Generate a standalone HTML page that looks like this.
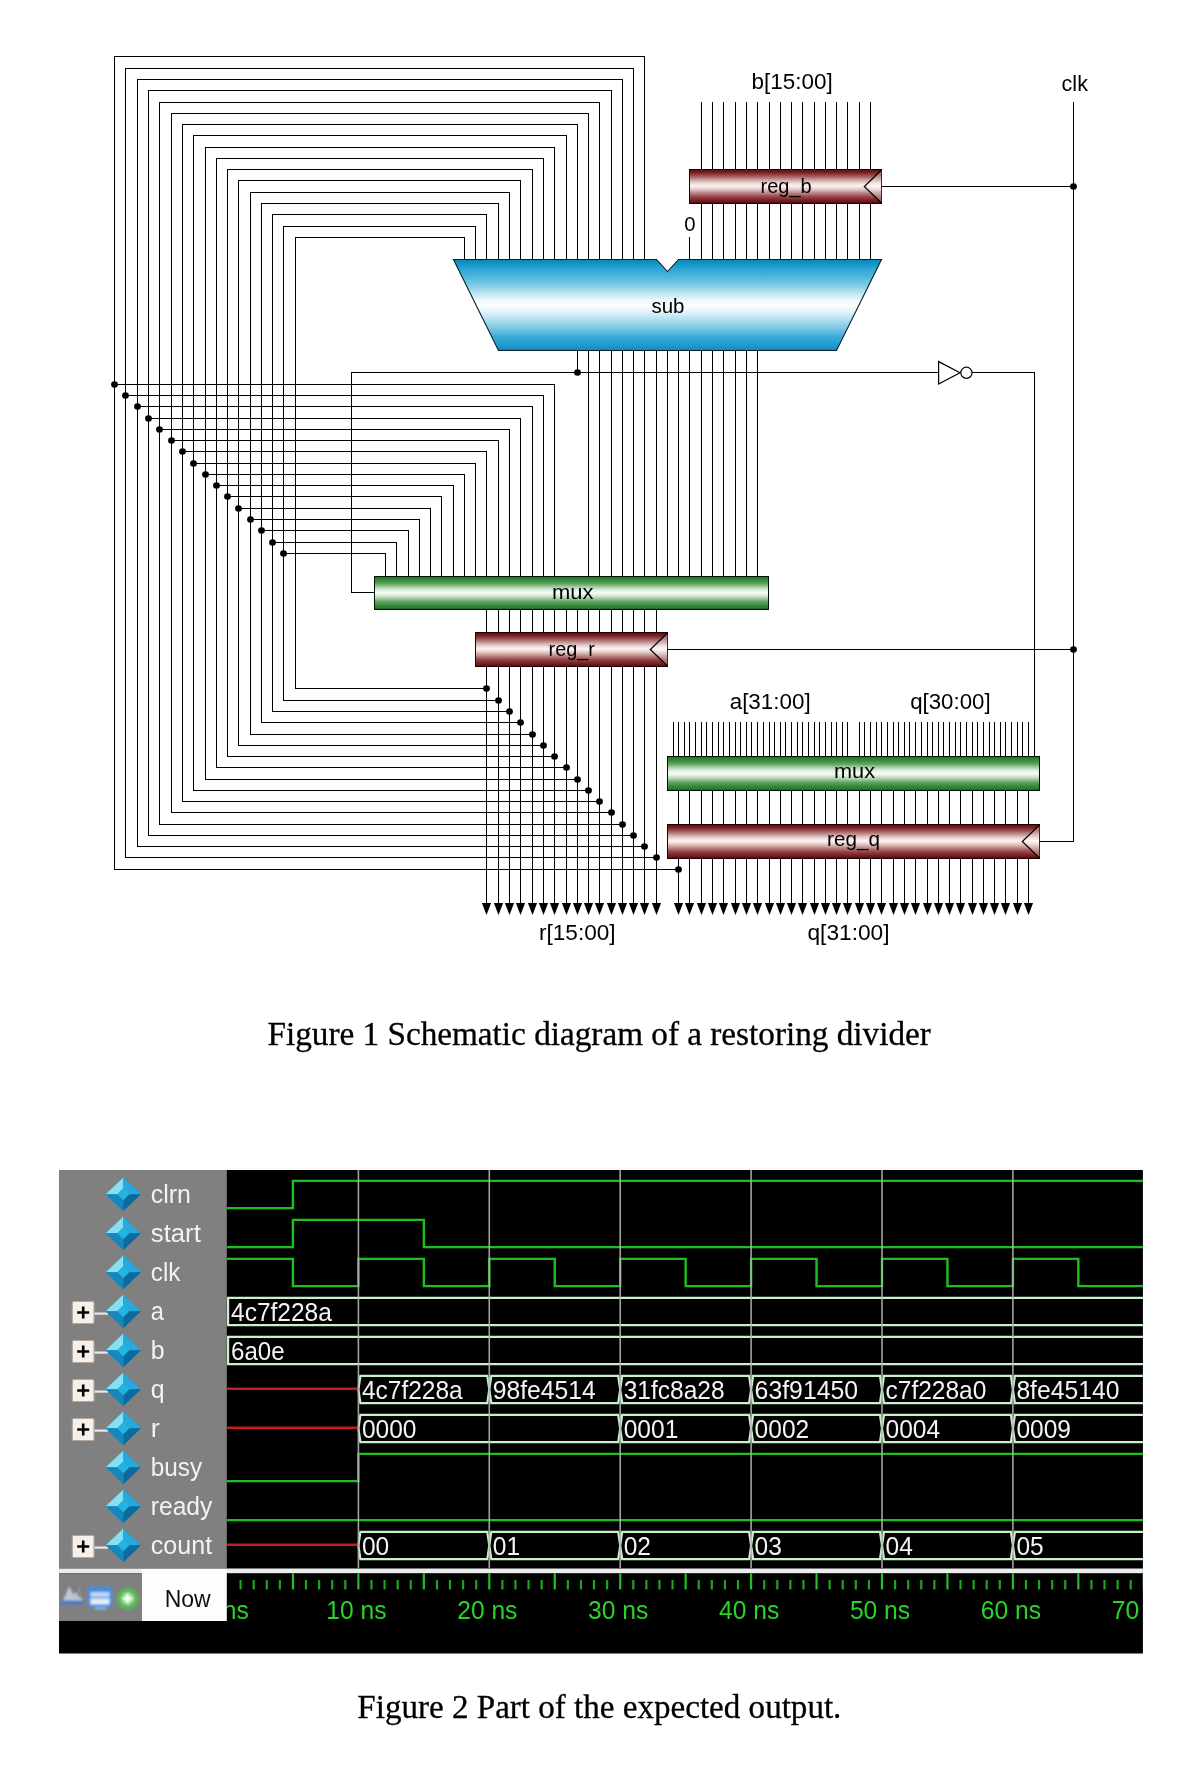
<!DOCTYPE html>
<html><head><meta charset="utf-8"><title>Restoring divider</title>
<style>
html,body{margin:0;padding:0;background:#fff;}
body{width:1203px;height:1780px;position:relative;overflow:hidden;font-family:"Liberation Sans",sans-serif;}
svg text{white-space:pre;}
</style></head><body>
<svg width="1203" height="1780" viewBox="0 0 1203 1780" style="position:absolute;left:0;top:0">
<defs>
<linearGradient id="gr" x1="0" y1="0" x2="0" y2="1">
<stop offset="0" stop-color="#4a0a0e"/><stop offset="0.04" stop-color="#6a161b"/><stop offset="0.1" stop-color="#7c2428"/><stop offset="0.2" stop-color="#a05a5c"/><stop offset="0.3" stop-color="#c89c9c"/><stop offset="0.4" stop-color="#ecd8d6"/><stop offset="0.485" stop-color="#fef3f0"/><stop offset="0.58" stop-color="#e4cbc9"/><stop offset="0.7" stop-color="#b88080"/><stop offset="0.8" stop-color="#964548"/><stop offset="0.9" stop-color="#7a2226"/><stop offset="0.96" stop-color="#65141a"/><stop offset="1" stop-color="#40060a"/>
</linearGradient>
<linearGradient id="gg" x1="0" y1="0" x2="0" y2="1">
<stop offset="0" stop-color="#1b5e20"/><stop offset="0.04" stop-color="#2a7a30"/><stop offset="0.12" stop-color="#3a8a3e"/><stop offset="0.22" stop-color="#60a362"/><stop offset="0.32" stop-color="#a8cfa8"/><stop offset="0.41" stop-color="#deeede"/><stop offset="0.49" stop-color="#f5fdf3"/><stop offset="0.57" stop-color="#deeede"/><stop offset="0.66" stop-color="#a8cfa8"/><stop offset="0.76" stop-color="#60a362"/><stop offset="0.87" stop-color="#3a8a3e"/><stop offset="0.95" stop-color="#2a7a30"/><stop offset="1" stop-color="#144d19"/>
</linearGradient>
<linearGradient id="gb" x1="0" y1="0" x2="0" y2="1">
<stop offset="0" stop-color="#0c86b8"/><stop offset="0.04" stop-color="#1193c5"/><stop offset="0.1" stop-color="#2aa5d4"/><stop offset="0.2" stop-color="#52b8de"/><stop offset="0.3" stop-color="#8dd0e6"/><stop offset="0.38" stop-color="#c4e6f1"/><stop offset="0.45" stop-color="#eef8fb"/><stop offset="0.505" stop-color="#fcffff"/><stop offset="0.58" stop-color="#e0f2f8"/><stop offset="0.65" stop-color="#b5e2f2"/><stop offset="0.75" stop-color="#80c8e4"/><stop offset="0.85" stop-color="#3aaad8"/><stop offset="0.95" stop-color="#1d9acc"/><stop offset="1" stop-color="#0c86b8"/>
</linearGradient>
</defs>
<path fill="none" stroke="#000" stroke-width="1" stroke-linecap="square" shape-rendering="crispEdges" d="M678.5 869.5 L114.5 869.5 L114.5 56.5 L644.5 56.5 L644.5 259.5 M114.5 384.5 L554.5 384.5 L554.5 576.5 M656.5 857.5 L125.5 857.5 L125.5 68.5 L633.5 68.5 L633.5 259.5 M125.5 395.5 L543.5 395.5 L543.5 576.5 M644.5 846.5 L137.5 846.5 L137.5 79.5 L622.5 79.5 L622.5 259.5 M137.5 406.5 L532.5 406.5 L532.5 576.5 M633.5 835.5 L148.5 835.5 L148.5 90.5 L611.5 90.5 L611.5 259.5 M148.5 418.5 L520.5 418.5 L520.5 576.5 M622.5 824.5 L159.5 824.5 L159.5 102.5 L599.5 102.5 L599.5 259.5 M159.5 429.5 L509.5 429.5 L509.5 576.5 M611.5 812.5 L171.5 812.5 L171.5 113.5 L588.5 113.5 L588.5 259.5 M171.5 440.5 L498.5 440.5 L498.5 576.5 M599.5 801.5 L182.5 801.5 L182.5 124.5 L577.5 124.5 L577.5 259.5 M182.5 451.5 L486.5 451.5 L486.5 576.5 M588.5 790.5 L193.5 790.5 L193.5 135.5 L566.5 135.5 L566.5 259.5 M193.5 463.5 L475.5 463.5 L475.5 576.5 M577.5 779.5 L205.5 779.5 L205.5 147.5 L554.5 147.5 L554.5 259.5 M205.5 474.5 L464.5 474.5 L464.5 576.5 M566.5 767.5 L216.5 767.5 L216.5 158.5 L543.5 158.5 L543.5 259.5 M216.5 485.5 L453.5 485.5 L453.5 576.5 M554.5 756.5 L227.5 756.5 L227.5 169.5 L532.5 169.5 L532.5 259.5 M227.5 496.5 L441.5 496.5 L441.5 576.5 M543.5 745.5 L238.5 745.5 L238.5 180.5 L520.5 180.5 L520.5 259.5 M238.5 508.5 L430.5 508.5 L430.5 576.5 M532.5 734.5 L250.5 734.5 L250.5 192.5 L509.5 192.5 L509.5 259.5 M250.5 519.5 L419.5 519.5 L419.5 576.5 M520.5 722.5 L261.5 722.5 L261.5 203.5 L498.5 203.5 L498.5 259.5 M261.5 530.5 L408.5 530.5 L408.5 576.5 M509.5 711.5 L272.5 711.5 L272.5 214.5 L486.5 214.5 L486.5 259.5 M272.5 542.5 L396.5 542.5 L396.5 576.5 M498.5 700.5 L283.5 700.5 L283.5 226.5 L475.5 226.5 L475.5 259.5 M283.5 553.5 L385.5 553.5 L385.5 576.5 M486.5 688.5 L295.5 688.5 L295.5 237.5 L464.5 237.5 L464.5 259.5 M577.5 350.5 L577.5 372.5 M588.5 350.5 L588.5 576.5 M599.5 350.5 L599.5 576.5 M611.5 350.5 L611.5 576.5 M622.5 350.5 L622.5 576.5 M633.5 350.5 L633.5 576.5 M644.5 350.5 L644.5 576.5 M656.5 350.5 L656.5 576.5 M667.5 350.5 L667.5 576.5 M678.5 350.5 L678.5 576.5 M689.5 350.5 L689.5 576.5 M701.5 350.5 L701.5 576.5 M712.5 350.5 L712.5 576.5 M723.5 350.5 L723.5 576.5 M735.5 350.5 L735.5 576.5 M746.5 350.5 L746.5 576.5 M757.5 350.5 L757.5 576.5 M374.5 592.5 L351.5 592.5 L351.5 372.5 L938.5 372.5 M972.5 372.5 L1034.5 372.5 L1034.5 756.5 M701.5 102.5 L701.5 169.5 M701.5 203.5 L701.5 259.5 M712.5 102.5 L712.5 169.5 M712.5 203.5 L712.5 259.5 M723.5 102.5 L723.5 169.5 M723.5 203.5 L723.5 259.5 M735.5 102.5 L735.5 169.5 M735.5 203.5 L735.5 259.5 M746.5 102.5 L746.5 169.5 M746.5 203.5 L746.5 259.5 M757.5 102.5 L757.5 169.5 M757.5 203.5 L757.5 259.5 M769.5 102.5 L769.5 169.5 M769.5 203.5 L769.5 259.5 M780.5 102.5 L780.5 169.5 M780.5 203.5 L780.5 259.5 M791.5 102.5 L791.5 169.5 M791.5 203.5 L791.5 259.5 M802.5 102.5 L802.5 169.5 M802.5 203.5 L802.5 259.5 M814.5 102.5 L814.5 169.5 M814.5 203.5 L814.5 259.5 M825.5 102.5 L825.5 169.5 M825.5 203.5 L825.5 259.5 M836.5 102.5 L836.5 169.5 M836.5 203.5 L836.5 259.5 M847.5 102.5 L847.5 169.5 M847.5 203.5 L847.5 259.5 M859.5 102.5 L859.5 169.5 M859.5 203.5 L859.5 259.5 M870.5 102.5 L870.5 169.5 M870.5 203.5 L870.5 259.5 M689.5 237.5 L689.5 259.5 M1073.5 102.5 L1073.5 841.5 L1039.5 841.5 M881.5 186.5 L1073.5 186.5 M667.5 649.5 L1073.5 649.5 M486.5 609.5 L486.5 632.5 M486.5 666.5 L486.5 904 M498.5 609.5 L498.5 632.5 M498.5 666.5 L498.5 904 M509.5 609.5 L509.5 632.5 M509.5 666.5 L509.5 904 M520.5 609.5 L520.5 632.5 M520.5 666.5 L520.5 904 M532.5 609.5 L532.5 632.5 M532.5 666.5 L532.5 904 M543.5 609.5 L543.5 632.5 M543.5 666.5 L543.5 904 M554.5 609.5 L554.5 632.5 M554.5 666.5 L554.5 904 M566.5 609.5 L566.5 632.5 M566.5 666.5 L566.5 904 M577.5 609.5 L577.5 632.5 M577.5 666.5 L577.5 904 M588.5 609.5 L588.5 632.5 M588.5 666.5 L588.5 904 M599.5 609.5 L599.5 632.5 M599.5 666.5 L599.5 904 M611.5 609.5 L611.5 632.5 M611.5 666.5 L611.5 904 M622.5 609.5 L622.5 632.5 M622.5 666.5 L622.5 904 M633.5 609.5 L633.5 632.5 M633.5 666.5 L633.5 904 M644.5 609.5 L644.5 632.5 M644.5 666.5 L644.5 904 M656.5 609.5 L656.5 632.5 M656.5 666.5 L656.5 904 M673.5 722.5 L673.5 756.5 M678.5 722.5 L678.5 756.5 M684.5 722.5 L684.5 756.5 M689.5 722.5 L689.5 756.5 M695.5 722.5 L695.5 756.5 M701.5 722.5 L701.5 756.5 M706.5 722.5 L706.5 756.5 M712.5 722.5 L712.5 756.5 M718.5 722.5 L718.5 756.5 M723.5 722.5 L723.5 756.5 M729.5 722.5 L729.5 756.5 M735.5 722.5 L735.5 756.5 M740.5 722.5 L740.5 756.5 M746.5 722.5 L746.5 756.5 M751.5 722.5 L751.5 756.5 M757.5 722.5 L757.5 756.5 M763.5 722.5 L763.5 756.5 M769.5 722.5 L769.5 756.5 M774.5 722.5 L774.5 756.5 M780.5 722.5 L780.5 756.5 M785.5 722.5 L785.5 756.5 M791.5 722.5 L791.5 756.5 M797.5 722.5 L797.5 756.5 M802.5 722.5 L802.5 756.5 M808.5 722.5 L808.5 756.5 M814.5 722.5 L814.5 756.5 M819.5 722.5 L819.5 756.5 M825.5 722.5 L825.5 756.5 M831.5 722.5 L831.5 756.5 M836.5 722.5 L836.5 756.5 M842.5 722.5 L842.5 756.5 M847.5 722.5 L847.5 756.5 M859.5 722.5 L859.5 756.5 M864.5 722.5 L864.5 756.5 M870.5 722.5 L870.5 756.5 M876.5 722.5 L876.5 756.5 M881.5 722.5 L881.5 756.5 M887.5 722.5 L887.5 756.5 M893.5 722.5 L893.5 756.5 M898.5 722.5 L898.5 756.5 M904.5 722.5 L904.5 756.5 M909.5 722.5 L909.5 756.5 M915.5 722.5 L915.5 756.5 M921.5 722.5 L921.5 756.5 M927.5 722.5 L927.5 756.5 M932.5 722.5 L932.5 756.5 M938.5 722.5 L938.5 756.5 M943.5 722.5 L943.5 756.5 M949.5 722.5 L949.5 756.5 M955.5 722.5 L955.5 756.5 M960.5 722.5 L960.5 756.5 M966.5 722.5 L966.5 756.5 M972.5 722.5 L972.5 756.5 M977.5 722.5 L977.5 756.5 M983.5 722.5 L983.5 756.5 M989.5 722.5 L989.5 756.5 M994.5 722.5 L994.5 756.5 M1000.5 722.5 L1000.5 756.5 M1005.5 722.5 L1005.5 756.5 M1011.5 722.5 L1011.5 756.5 M1017.5 722.5 L1017.5 756.5 M1022.5 722.5 L1022.5 756.5 M1028.5 722.5 L1028.5 756.5 M678.5 790.5 L678.5 824.5 M678.5 858.5 L678.5 904 M689.5 790.5 L689.5 824.5 M689.5 858.5 L689.5 904 M701.5 790.5 L701.5 824.5 M701.5 858.5 L701.5 904 M712.5 790.5 L712.5 824.5 M712.5 858.5 L712.5 904 M723.5 790.5 L723.5 824.5 M723.5 858.5 L723.5 904 M735.5 790.5 L735.5 824.5 M735.5 858.5 L735.5 904 M746.5 790.5 L746.5 824.5 M746.5 858.5 L746.5 904 M757.5 790.5 L757.5 824.5 M757.5 858.5 L757.5 904 M769.5 790.5 L769.5 824.5 M769.5 858.5 L769.5 904 M780.5 790.5 L780.5 824.5 M780.5 858.5 L780.5 904 M791.5 790.5 L791.5 824.5 M791.5 858.5 L791.5 904 M802.5 790.5 L802.5 824.5 M802.5 858.5 L802.5 904 M814.5 790.5 L814.5 824.5 M814.5 858.5 L814.5 904 M825.5 790.5 L825.5 824.5 M825.5 858.5 L825.5 904 M836.5 790.5 L836.5 824.5 M836.5 858.5 L836.5 904 M847.5 790.5 L847.5 824.5 M847.5 858.5 L847.5 904 M859.5 790.5 L859.5 824.5 M859.5 858.5 L859.5 904 M870.5 790.5 L870.5 824.5 M870.5 858.5 L870.5 904 M881.5 790.5 L881.5 824.5 M881.5 858.5 L881.5 904 M893.5 790.5 L893.5 824.5 M893.5 858.5 L893.5 904 M904.5 790.5 L904.5 824.5 M904.5 858.5 L904.5 904 M915.5 790.5 L915.5 824.5 M915.5 858.5 L915.5 904 M927.5 790.5 L927.5 824.5 M927.5 858.5 L927.5 904 M938.5 790.5 L938.5 824.5 M938.5 858.5 L938.5 904 M949.5 790.5 L949.5 824.5 M949.5 858.5 L949.5 904 M960.5 790.5 L960.5 824.5 M960.5 858.5 L960.5 904 M972.5 790.5 L972.5 824.5 M972.5 858.5 L972.5 904 M983.5 790.5 L983.5 824.5 M983.5 858.5 L983.5 904 M994.5 790.5 L994.5 824.5 M994.5 858.5 L994.5 904 M1005.5 790.5 L1005.5 824.5 M1005.5 858.5 L1005.5 904 M1017.5 790.5 L1017.5 824.5 M1017.5 858.5 L1017.5 904 M1028.5 790.5 L1028.5 824.5 M1028.5 858.5 L1028.5 904"/>
<g fill="#000"><ellipse cx="678.5" cy="869.5" rx="3.4" ry="3.3"/><ellipse cx="114.5" cy="384.5" rx="3.4" ry="3.3"/><ellipse cx="656.5" cy="857.5" rx="3.4" ry="3.3"/><ellipse cx="125.5" cy="395.5" rx="3.4" ry="3.3"/><ellipse cx="644.5" cy="846.5" rx="3.4" ry="3.3"/><ellipse cx="137.5" cy="406.5" rx="3.4" ry="3.3"/><ellipse cx="633.5" cy="835.5" rx="3.4" ry="3.3"/><ellipse cx="148.5" cy="418.5" rx="3.4" ry="3.3"/><ellipse cx="622.5" cy="824.5" rx="3.4" ry="3.3"/><ellipse cx="159.5" cy="429.5" rx="3.4" ry="3.3"/><ellipse cx="611.5" cy="812.5" rx="3.4" ry="3.3"/><ellipse cx="171.5" cy="440.5" rx="3.4" ry="3.3"/><ellipse cx="599.5" cy="801.5" rx="3.4" ry="3.3"/><ellipse cx="182.5" cy="451.5" rx="3.4" ry="3.3"/><ellipse cx="588.5" cy="790.5" rx="3.4" ry="3.3"/><ellipse cx="193.5" cy="463.5" rx="3.4" ry="3.3"/><ellipse cx="577.5" cy="779.5" rx="3.4" ry="3.3"/><ellipse cx="205.5" cy="474.5" rx="3.4" ry="3.3"/><ellipse cx="566.5" cy="767.5" rx="3.4" ry="3.3"/><ellipse cx="216.5" cy="485.5" rx="3.4" ry="3.3"/><ellipse cx="554.5" cy="756.5" rx="3.4" ry="3.3"/><ellipse cx="227.5" cy="496.5" rx="3.4" ry="3.3"/><ellipse cx="543.5" cy="745.5" rx="3.4" ry="3.3"/><ellipse cx="238.5" cy="508.5" rx="3.4" ry="3.3"/><ellipse cx="532.5" cy="734.5" rx="3.4" ry="3.3"/><ellipse cx="250.5" cy="519.5" rx="3.4" ry="3.3"/><ellipse cx="520.5" cy="722.5" rx="3.4" ry="3.3"/><ellipse cx="261.5" cy="530.5" rx="3.4" ry="3.3"/><ellipse cx="509.5" cy="711.5" rx="3.4" ry="3.3"/><ellipse cx="272.5" cy="542.5" rx="3.4" ry="3.3"/><ellipse cx="498.5" cy="700.5" rx="3.4" ry="3.3"/><ellipse cx="283.5" cy="553.5" rx="3.4" ry="3.3"/><ellipse cx="486.5" cy="688.5" rx="3.4" ry="3.3"/><ellipse cx="577.5" cy="372.5" rx="3.4" ry="3.3"/><ellipse cx="1073.5" cy="186.5" rx="3.4" ry="3.3"/><ellipse cx="1073.5" cy="649.5" rx="3.4" ry="3.3"/></g>
<path fill="#000" d="M481.9 903 L491.1 903 L486.5 915 Z M493.9 903 L503.1 903 L498.5 915 Z M504.9 903 L514.1 903 L509.5 915 Z M515.9 903 L525.1 903 L520.5 915 Z M527.9 903 L537.1 903 L532.5 915 Z M538.9 903 L548.1 903 L543.5 915 Z M549.9 903 L559.1 903 L554.5 915 Z M561.9 903 L571.1 903 L566.5 915 Z M572.9 903 L582.1 903 L577.5 915 Z M583.9 903 L593.1 903 L588.5 915 Z M594.9 903 L604.1 903 L599.5 915 Z M606.9 903 L616.1 903 L611.5 915 Z M617.9 903 L627.1 903 L622.5 915 Z M628.9 903 L638.1 903 L633.5 915 Z M639.9 903 L649.1 903 L644.5 915 Z M651.9 903 L661.1 903 L656.5 915 Z M673.9 903 L683.1 903 L678.5 915 Z M684.9 903 L694.1 903 L689.5 915 Z M696.9 903 L706.1 903 L701.5 915 Z M707.9 903 L717.1 903 L712.5 915 Z M718.9 903 L728.1 903 L723.5 915 Z M730.9 903 L740.1 903 L735.5 915 Z M741.9 903 L751.1 903 L746.5 915 Z M752.9 903 L762.1 903 L757.5 915 Z M764.9 903 L774.1 903 L769.5 915 Z M775.9 903 L785.1 903 L780.5 915 Z M786.9 903 L796.1 903 L791.5 915 Z M797.9 903 L807.1 903 L802.5 915 Z M809.9 903 L819.1 903 L814.5 915 Z M820.9 903 L830.1 903 L825.5 915 Z M831.9 903 L841.1 903 L836.5 915 Z M842.9 903 L852.1 903 L847.5 915 Z M854.9 903 L864.1 903 L859.5 915 Z M865.9 903 L875.1 903 L870.5 915 Z M876.9 903 L886.1 903 L881.5 915 Z M888.9 903 L898.1 903 L893.5 915 Z M899.9 903 L909.1 903 L904.5 915 Z M910.9 903 L920.1 903 L915.5 915 Z M922.9 903 L932.1 903 L927.5 915 Z M933.9 903 L943.1 903 L938.5 915 Z M944.9 903 L954.1 903 L949.5 915 Z M955.9 903 L965.1 903 L960.5 915 Z M967.9 903 L977.1 903 L972.5 915 Z M978.9 903 L988.1 903 L983.5 915 Z M989.9 903 L999.1 903 L994.5 915 Z M1000.9 903 L1010.1 903 L1005.5 915 Z M1012.9 903 L1022.1 903 L1017.5 915 Z M1023.9 903 L1033.1 903 L1028.5 915 Z"/>
<rect x="689.5" y="169.5" width="192" height="34" fill="url(#gr)" stroke="#1a0000" stroke-width="1"/>
<rect x="475.5" y="632.5" width="192" height="34" fill="url(#gr)" stroke="#1a0000" stroke-width="1"/>
<rect x="667.5" y="824.5" width="372" height="34" fill="url(#gr)" stroke="#1a0000" stroke-width="1"/>
<rect x="374.5" y="576.5" width="394" height="33" fill="url(#gg)" stroke="#001400" stroke-width="1"/>
<rect x="667.5" y="756.5" width="372" height="34" fill="url(#gg)" stroke="#001400" stroke-width="1"/>
<path fill="rgba(255,255,255,0.3)" stroke="#000" stroke-width="1.2" d="M881.5 170 L864.3 186.5 L881.5 203"/>
<path fill="rgba(255,255,255,0.3)" stroke="#000" stroke-width="1.2" d="M667.5 633 L650.3 649.5 L667.5 666"/>
<path fill="rgba(255,255,255,0.3)" stroke="#000" stroke-width="1.2" d="M1039.5 825 L1022.3 841.5 L1039.5 858"/>
<path fill="url(#gb)" stroke="#06202c" stroke-width="1.1" d="M453.5 259.5 L656.5 259.5 L667.5 271.5 L678.5 259.5 L881.5 259.5 L836.5 350.5 L498.5 350.5 Z"/>
<path fill="#fff" stroke="#000" stroke-width="1.2" d="M938.6 361.6 L938.6 384 L960 372.8 Z"/>
<circle cx="966.4" cy="372.8" r="5.6" fill="#fff" stroke="#000" stroke-width="1.2"/>
<filter id="bt" x="-5%" y="-30%" width="110%" height="160%"><feGaussianBlur stdDeviation="0.3"/></filter>
<g font-family="'Liberation Sans', sans-serif" fill="#000" filter="url(#bt)">
<text x="751.5" y="89.4" font-size="21.5" textLength="81.2" lengthAdjust="spacingAndGlyphs">b[15:00]</text>
<text x="1061.6" y="91" font-size="21.5" textLength="26.3" lengthAdjust="spacingAndGlyphs">clk</text>
<text x="684.3" y="230.6" font-size="20" textLength="11.3" lengthAdjust="spacingAndGlyphs">0</text>
<text x="760.5" y="192.9" font-size="20.5" textLength="51.2" lengthAdjust="spacingAndGlyphs">reg_b</text>
<text x="651.5" y="312.6" font-size="20.5" textLength="33" lengthAdjust="spacingAndGlyphs">sub</text>
<text x="552" y="599" font-size="20.5" textLength="41.5" lengthAdjust="spacingAndGlyphs">mux</text>
<text x="548.5" y="656" font-size="20.5" textLength="46.5" lengthAdjust="spacingAndGlyphs">reg_r</text>
<text x="729.7" y="708.5" font-size="21.5" textLength="81" lengthAdjust="spacingAndGlyphs">a[31:00]</text>
<text x="910.2" y="708.5" font-size="21.5" textLength="80.4" lengthAdjust="spacingAndGlyphs">q[30:00]</text>
<text x="834" y="778.2" font-size="20.5" textLength="41" lengthAdjust="spacingAndGlyphs">mux</text>
<text x="827" y="846" font-size="20.5" textLength="53" lengthAdjust="spacingAndGlyphs">reg_q</text>
<text x="539" y="939.7" font-size="21.5" textLength="76.6" lengthAdjust="spacingAndGlyphs">r[15:00]</text>
<text x="807.5" y="939.7" font-size="21.5" textLength="82" lengthAdjust="spacingAndGlyphs">q[31:00]</text>
</g>
<g font-family="'Liberation Serif', serif" fill="#000" stroke="#000" stroke-width="0.3" filter="url(#bt)">
<text x="267.5" y="1045.4" font-size="33" textLength="663.3" lengthAdjust="spacingAndGlyphs">Figure 1 Schematic diagram of a restoring divider</text>
<text x="357.3" y="1717.5" font-size="33" textLength="484.1" lengthAdjust="spacingAndGlyphs">Figure 2 Part of the expected output.</text>
</g>
<filter id="bl" x="-2%" y="-2%" width="104%" height="104%"><feGaussianBlur stdDeviation="0.55"/></filter>
<g filter="url(#bl)">
<rect x="59" y="1170" width="1083.9" height="483.5" fill="#000"/>
<rect x="59" y="1170" width="167.8" height="398.5" fill="#808080"/>
<clipPath id="cw"><rect x="226.8" y="1170" width="916.1" height="483.5"/></clipPath>
<g clip-path="url(#cw)">
<path fill="none" stroke="#1fc01f" stroke-width="2.4" stroke-linejoin="miter" d="M226.8 1208.1 L292.95 1208.1 L292.95 1180.9 L1144.9 1180.9"/>
<path fill="none" stroke="#1fc01f" stroke-width="2.4" stroke-linejoin="miter" d="M226.8 1247.1 L292.95 1247.1 L292.95 1219.9 L423.85 1219.9 L423.85 1247.1 L1144.9 1247.1"/>
<path fill="none" stroke="#1fc01f" stroke-width="2.4" stroke-linejoin="miter" d="M226.8 1258.9 L292.95 1258.9 L292.95 1286.1 L358.4 1286.1 L358.4 1258.9 L423.85 1258.9 L423.85 1286.1 L489.3 1286.1 L489.3 1258.9 L554.75 1258.9 L554.75 1286.1 L620.2 1286.1 L620.2 1258.9 L685.65 1258.9 L685.65 1286.1 L751.1 1286.1 L751.1 1258.9 L816.55 1258.9 L816.55 1286.1 L882 1286.1 L882 1258.9 L947.45 1258.9 L947.45 1286.1 L1012.9 1286.1 L1012.9 1258.9 L1078.35 1258.9 L1078.35 1286.1 L1144.9 1286.1"/>
<path fill="none" stroke="#1fc01f" stroke-width="2.4" stroke-linejoin="miter" d="M226.8 1481.1 L358.4 1481.1 L358.4 1453.9 L1144.9 1453.9"/>
<path fill="none" stroke="#1fc01f" stroke-width="2.4" stroke-linejoin="miter" d="M226.8 1520.1 L1144.9 1520.1"/>
<path fill="none" stroke="#c9f0c9" stroke-width="2.2" d="M1180.9 1297.9 L228.1 1297.9 L228.1 1325.1 L1180.9 1325.1 L1182.9 1311.5 L1180.9 1297.9"/>
<g font-family="'Liberation Sans', sans-serif" fill="#f4f4f4" font-size="25.0">
<text x="231" y="1321.1" textLength="100.85" lengthAdjust="spacingAndGlyphs">4c7f228a</text>
</g>
<path fill="none" stroke="#c9f0c9" stroke-width="2.2" d="M1180.9 1336.9 L228.1 1336.9 L228.1 1364.1 L1180.9 1364.1 L1182.9 1350.5 L1180.9 1336.9"/>
<g font-family="'Liberation Sans', sans-serif" fill="#f4f4f4" font-size="25.0">
<text x="231" y="1360.1" textLength="53.58" lengthAdjust="spacingAndGlyphs">6a0e</text>
</g>
<path fill="none" stroke="#c9f0c9" stroke-width="2.2" d="M358.4 1389.5 L360.4 1375.9 L487.3 1375.9 L489.3 1389.5 L487.3 1403.1 L360.4 1403.1 Z M489.3 1389.5 L491.3 1375.9 L618.2 1375.9 L620.2 1389.5 L618.2 1403.1 L491.3 1403.1 Z M620.2 1389.5 L622.2 1375.9 L749.1 1375.9 L751.1 1389.5 L749.1 1403.1 L622.2 1403.1 Z M751.1 1389.5 L753.1 1375.9 L880 1375.9 L882 1389.5 L880 1403.1 L753.1 1403.1 Z M882 1389.5 L884 1375.9 L1010.9 1375.9 L1012.9 1389.5 L1010.9 1403.1 L884 1403.1 Z M1012.9 1389.5 L1014.9 1375.9 L1180.9 1375.9 L1182.9 1389.5 L1180.9 1403.1 L1014.9 1403.1 Z"/>
<path fill="none" stroke="#c81e1e" stroke-width="2.6" d="M226.8 1388.8 L358.4 1388.8"/>
<g font-family="'Liberation Sans', sans-serif" fill="#f4f4f4" font-size="25.0">
<text x="361.9" y="1399.1" textLength="100.85" lengthAdjust="spacingAndGlyphs">4c7f228a</text>
<text x="492.8" y="1399.1" textLength="103" lengthAdjust="spacingAndGlyphs">98fe4514</text>
<text x="623.7" y="1399.1" textLength="100.85" lengthAdjust="spacingAndGlyphs">31fc8a28</text>
<text x="754.6" y="1399.1" textLength="103.5" lengthAdjust="spacingAndGlyphs">63f91450</text>
<text x="885.5" y="1399.1" textLength="100.85" lengthAdjust="spacingAndGlyphs">c7f228a0</text>
<text x="1016.4" y="1399.1" textLength="103" lengthAdjust="spacingAndGlyphs">8fe45140</text>
</g>
<path fill="none" stroke="#c9f0c9" stroke-width="2.2" d="M358.4 1428.5 L360.4 1414.9 L618.2 1414.9 L620.2 1428.5 L618.2 1442.1 L360.4 1442.1 Z M620.2 1428.5 L622.2 1414.9 L749.1 1414.9 L751.1 1428.5 L749.1 1442.1 L622.2 1442.1 Z M751.1 1428.5 L753.1 1414.9 L880 1414.9 L882 1428.5 L880 1442.1 L753.1 1442.1 Z M882 1428.5 L884 1414.9 L1010.9 1414.9 L1012.9 1428.5 L1010.9 1442.1 L884 1442.1 Z M1012.9 1428.5 L1014.9 1414.9 L1180.9 1414.9 L1182.9 1428.5 L1180.9 1442.1 L1014.9 1442.1 Z"/>
<path fill="none" stroke="#c81e1e" stroke-width="2.6" d="M226.8 1427.8 L358.4 1427.8"/>
<g font-family="'Liberation Sans', sans-serif" fill="#f4f4f4" font-size="25.0">
<text x="361.9" y="1438.1" textLength="54.6" lengthAdjust="spacingAndGlyphs">0000</text>
<text x="623.7" y="1438.1" textLength="54.6" lengthAdjust="spacingAndGlyphs">0001</text>
<text x="754.6" y="1438.1" textLength="54.6" lengthAdjust="spacingAndGlyphs">0002</text>
<text x="885.5" y="1438.1" textLength="54.6" lengthAdjust="spacingAndGlyphs">0004</text>
<text x="1016.4" y="1438.1" textLength="54.6" lengthAdjust="spacingAndGlyphs">0009</text>
</g>
<path fill="none" stroke="#c9f0c9" stroke-width="2.2" d="M358.4 1545.5 L360.4 1531.9 L487.3 1531.9 L489.3 1545.5 L487.3 1559.1 L360.4 1559.1 Z M489.3 1545.5 L491.3 1531.9 L618.2 1531.9 L620.2 1545.5 L618.2 1559.1 L491.3 1559.1 Z M620.2 1545.5 L622.2 1531.9 L749.1 1531.9 L751.1 1545.5 L749.1 1559.1 L622.2 1559.1 Z M751.1 1545.5 L753.1 1531.9 L880 1531.9 L882 1545.5 L880 1559.1 L753.1 1559.1 Z M882 1545.5 L884 1531.9 L1010.9 1531.9 L1012.9 1545.5 L1010.9 1559.1 L884 1559.1 Z M1012.9 1545.5 L1014.9 1531.9 L1180.9 1531.9 L1182.9 1545.5 L1180.9 1559.1 L1014.9 1559.1 Z"/>
<path fill="none" stroke="#c81e1e" stroke-width="2.6" d="M226.8 1544.8 L358.4 1544.8"/>
<g font-family="'Liberation Sans', sans-serif" fill="#f4f4f4" font-size="25.0">
<text x="361.9" y="1555.1" textLength="27.3" lengthAdjust="spacingAndGlyphs">00</text>
<text x="492.8" y="1555.1" textLength="27.3" lengthAdjust="spacingAndGlyphs">01</text>
<text x="623.7" y="1555.1" textLength="27.3" lengthAdjust="spacingAndGlyphs">02</text>
<text x="754.6" y="1555.1" textLength="27.3" lengthAdjust="spacingAndGlyphs">03</text>
<text x="885.5" y="1555.1" textLength="27.3" lengthAdjust="spacingAndGlyphs">04</text>
<text x="1016.4" y="1555.1" textLength="27.3" lengthAdjust="spacingAndGlyphs">05</text>
</g>
<rect x="357.6" y="1170" width="1.6" height="398" fill="#b4b4b4" opacity="0.9"/>
<rect x="488.5" y="1170" width="1.6" height="398" fill="#b4b4b4" opacity="0.9"/>
<rect x="619.4" y="1170" width="1.6" height="398" fill="#b4b4b4" opacity="0.9"/>
<rect x="750.3" y="1170" width="1.6" height="398" fill="#b4b4b4" opacity="0.9"/>
<rect x="881.2" y="1170" width="1.6" height="398" fill="#b4b4b4" opacity="0.9"/>
<rect x="1012.1" y="1170" width="1.6" height="398" fill="#b4b4b4" opacity="0.9"/>
<rect x="239.49" y="1580" width="2.2" height="9.5" fill="#1aa51a"/>
<rect x="252.58" y="1580" width="2.2" height="9.5" fill="#1aa51a"/>
<rect x="265.67" y="1580" width="2.2" height="9.5" fill="#1aa51a"/>
<rect x="278.76" y="1580" width="2.2" height="9.5" fill="#1aa51a"/>
<rect x="291.85" y="1573.5" width="2.2" height="16" fill="#20c020"/>
<rect x="304.94" y="1580" width="2.2" height="9.5" fill="#1aa51a"/>
<rect x="318.03" y="1580" width="2.2" height="9.5" fill="#1aa51a"/>
<rect x="331.12" y="1580" width="2.2" height="9.5" fill="#1aa51a"/>
<rect x="344.21" y="1580" width="2.2" height="9.5" fill="#1aa51a"/>
<rect x="357.3" y="1573.5" width="2.2" height="16" fill="#20c020"/>
<rect x="370.39" y="1580" width="2.2" height="9.5" fill="#1aa51a"/>
<rect x="383.48" y="1580" width="2.2" height="9.5" fill="#1aa51a"/>
<rect x="396.57" y="1580" width="2.2" height="9.5" fill="#1aa51a"/>
<rect x="409.66" y="1580" width="2.2" height="9.5" fill="#1aa51a"/>
<rect x="422.75" y="1573.5" width="2.2" height="16" fill="#20c020"/>
<rect x="435.84" y="1580" width="2.2" height="9.5" fill="#1aa51a"/>
<rect x="448.93" y="1580" width="2.2" height="9.5" fill="#1aa51a"/>
<rect x="462.02" y="1580" width="2.2" height="9.5" fill="#1aa51a"/>
<rect x="475.11" y="1580" width="2.2" height="9.5" fill="#1aa51a"/>
<rect x="488.2" y="1573.5" width="2.2" height="16" fill="#20c020"/>
<rect x="501.29" y="1580" width="2.2" height="9.5" fill="#1aa51a"/>
<rect x="514.38" y="1580" width="2.2" height="9.5" fill="#1aa51a"/>
<rect x="527.47" y="1580" width="2.2" height="9.5" fill="#1aa51a"/>
<rect x="540.56" y="1580" width="2.2" height="9.5" fill="#1aa51a"/>
<rect x="553.65" y="1573.5" width="2.2" height="16" fill="#20c020"/>
<rect x="566.74" y="1580" width="2.2" height="9.5" fill="#1aa51a"/>
<rect x="579.83" y="1580" width="2.2" height="9.5" fill="#1aa51a"/>
<rect x="592.92" y="1580" width="2.2" height="9.5" fill="#1aa51a"/>
<rect x="606.01" y="1580" width="2.2" height="9.5" fill="#1aa51a"/>
<rect x="619.1" y="1573.5" width="2.2" height="16" fill="#20c020"/>
<rect x="632.19" y="1580" width="2.2" height="9.5" fill="#1aa51a"/>
<rect x="645.28" y="1580" width="2.2" height="9.5" fill="#1aa51a"/>
<rect x="658.37" y="1580" width="2.2" height="9.5" fill="#1aa51a"/>
<rect x="671.46" y="1580" width="2.2" height="9.5" fill="#1aa51a"/>
<rect x="684.55" y="1573.5" width="2.2" height="16" fill="#20c020"/>
<rect x="697.64" y="1580" width="2.2" height="9.5" fill="#1aa51a"/>
<rect x="710.73" y="1580" width="2.2" height="9.5" fill="#1aa51a"/>
<rect x="723.82" y="1580" width="2.2" height="9.5" fill="#1aa51a"/>
<rect x="736.91" y="1580" width="2.2" height="9.5" fill="#1aa51a"/>
<rect x="750" y="1573.5" width="2.2" height="16" fill="#20c020"/>
<rect x="763.09" y="1580" width="2.2" height="9.5" fill="#1aa51a"/>
<rect x="776.18" y="1580" width="2.2" height="9.5" fill="#1aa51a"/>
<rect x="789.27" y="1580" width="2.2" height="9.5" fill="#1aa51a"/>
<rect x="802.36" y="1580" width="2.2" height="9.5" fill="#1aa51a"/>
<rect x="815.45" y="1573.5" width="2.2" height="16" fill="#20c020"/>
<rect x="828.54" y="1580" width="2.2" height="9.5" fill="#1aa51a"/>
<rect x="841.63" y="1580" width="2.2" height="9.5" fill="#1aa51a"/>
<rect x="854.72" y="1580" width="2.2" height="9.5" fill="#1aa51a"/>
<rect x="867.81" y="1580" width="2.2" height="9.5" fill="#1aa51a"/>
<rect x="880.9" y="1573.5" width="2.2" height="16" fill="#20c020"/>
<rect x="893.99" y="1580" width="2.2" height="9.5" fill="#1aa51a"/>
<rect x="907.08" y="1580" width="2.2" height="9.5" fill="#1aa51a"/>
<rect x="920.17" y="1580" width="2.2" height="9.5" fill="#1aa51a"/>
<rect x="933.26" y="1580" width="2.2" height="9.5" fill="#1aa51a"/>
<rect x="946.35" y="1573.5" width="2.2" height="16" fill="#20c020"/>
<rect x="959.44" y="1580" width="2.2" height="9.5" fill="#1aa51a"/>
<rect x="972.53" y="1580" width="2.2" height="9.5" fill="#1aa51a"/>
<rect x="985.62" y="1580" width="2.2" height="9.5" fill="#1aa51a"/>
<rect x="998.71" y="1580" width="2.2" height="9.5" fill="#1aa51a"/>
<rect x="1011.8" y="1573.5" width="2.2" height="16" fill="#20c020"/>
<rect x="1024.89" y="1580" width="2.2" height="9.5" fill="#1aa51a"/>
<rect x="1037.98" y="1580" width="2.2" height="9.5" fill="#1aa51a"/>
<rect x="1051.07" y="1580" width="2.2" height="9.5" fill="#1aa51a"/>
<rect x="1064.16" y="1580" width="2.2" height="9.5" fill="#1aa51a"/>
<rect x="1077.25" y="1573.5" width="2.2" height="16" fill="#20c020"/>
<rect x="1090.34" y="1580" width="2.2" height="9.5" fill="#1aa51a"/>
<rect x="1103.43" y="1580" width="2.2" height="9.5" fill="#1aa51a"/>
<rect x="1116.52" y="1580" width="2.2" height="9.5" fill="#1aa51a"/>
<rect x="1129.61" y="1580" width="2.2" height="9.5" fill="#1aa51a"/>
<rect x="1142.7" y="1573.5" width="2.2" height="16" fill="#20c020"/>
<g font-family="'Liberation Sans', sans-serif" fill="#2ad42a" font-size="25.0">
<text x="202.21" y="1618.5" textLength="46.58" lengthAdjust="spacingAndGlyphs">0 ns</text>
<text x="326.29" y="1618.5" textLength="60.23" lengthAdjust="spacingAndGlyphs">10 ns</text>
<text x="457.19" y="1618.5" textLength="60.23" lengthAdjust="spacingAndGlyphs">20 ns</text>
<text x="588.09" y="1618.5" textLength="60.23" lengthAdjust="spacingAndGlyphs">30 ns</text>
<text x="718.99" y="1618.5" textLength="60.23" lengthAdjust="spacingAndGlyphs">40 ns</text>
<text x="849.89" y="1618.5" textLength="60.23" lengthAdjust="spacingAndGlyphs">50 ns</text>
<text x="980.79" y="1618.5" textLength="60.23" lengthAdjust="spacingAndGlyphs">60 ns</text>
<text x="1111.69" y="1618.5" textLength="60.23" lengthAdjust="spacingAndGlyphs">70 ns</text>
</g>
</g>
<rect x="59" y="1568.5" width="1083.9" height="4.7" fill="#ececec"/>
<rect x="59" y="1573.2" width="82.8" height="47.8" fill="#808080"/>
<rect x="141.8" y="1569" width="85" height="52" fill="#fdfdfd"/>
<text x="164.7" y="1607.1" font-family="'Liberation Sans', sans-serif" font-size="24.5" textLength="46" lengthAdjust="spacingAndGlyphs" fill="#111">Now</text>
<filter id="bi" x="-10%" y="-10%" width="120%" height="120%"><feGaussianBlur stdDeviation="0.8"/></filter>
<g filter="url(#bi)">
<path d="M62 1603 L69 1586.5 L74 1595 L78.5 1588 L83 1603 Z" fill="#c6ced9" opacity="0.9"/><rect x="61" y="1600.5" width="22" height="4" fill="#4a7cc6"/><path d="M76 1588 L80 1597" stroke="#5b6b85" stroke-width="2"/>
<rect x="87.5" y="1586.5" width="25" height="21" rx="2" fill="#4a8fdc"/><rect x="90.5" y="1592" width="19" height="5" fill="#b9d4f3"/><rect x="90.5" y="1598.5" width="19" height="6" fill="#e6eef8"/><rect x="95" y="1607" width="11" height="2.5" fill="#8ab4e6"/>
<circle cx="127.6" cy="1598.6" r="11.2" fill="#58b457"/><circle cx="127.6" cy="1598.6" r="7" fill="#8ad583"/><path d="M127.6 1594v9.2M123 1598.6h9.2" stroke="#f4fff0" stroke-width="3.4"/>
</g>
<g font-family="'Liberation Sans', sans-serif" fill="#f2f2f2" font-size="25.0">
<g transform="translate(123.3 1194.3)"><path d="M0 -16.9 L17.6 0 L0 16.9 L-17.6 0 Z" fill="#1b93cc"/><path d="M0 -16.9 L-17.6 0 L-6 0 L0 -6 Z" fill="#86e0f2"/><path d="M0 -16.9 L17.6 0 L6 0 L0 -6 Z" fill="#27a9dc"/><path d="M0 16.9 L17.6 0 L6 0 L0 6 Z" fill="#0e6a9c"/><path d="M0 16.9 L-17.6 0 L-6 0 L0 6 Z" fill="#1687bd"/><path d="M0 -6 L6 0 L0 6 L-6 0 Z" fill="#22b4e2"/></g>
<text x="150.8" y="1202.9" textLength="40.2" lengthAdjust="spacingAndGlyphs">clrn</text>
<g transform="translate(123.3 1233.3)"><path d="M0 -16.9 L17.6 0 L0 16.9 L-17.6 0 Z" fill="#1b93cc"/><path d="M0 -16.9 L-17.6 0 L-6 0 L0 -6 Z" fill="#86e0f2"/><path d="M0 -16.9 L17.6 0 L6 0 L0 -6 Z" fill="#27a9dc"/><path d="M0 16.9 L17.6 0 L6 0 L0 6 Z" fill="#0e6a9c"/><path d="M0 16.9 L-17.6 0 L-6 0 L0 6 Z" fill="#1687bd"/><path d="M0 -6 L6 0 L0 6 L-6 0 Z" fill="#22b4e2"/></g>
<text x="150.8" y="1241.9" textLength="49.98" lengthAdjust="spacingAndGlyphs">start</text>
<g transform="translate(123.3 1272.3)"><path d="M0 -16.9 L17.6 0 L0 16.9 L-17.6 0 Z" fill="#1b93cc"/><path d="M0 -16.9 L-17.6 0 L-6 0 L0 -6 Z" fill="#86e0f2"/><path d="M0 -16.9 L17.6 0 L6 0 L0 -6 Z" fill="#27a9dc"/><path d="M0 16.9 L17.6 0 L6 0 L0 6 Z" fill="#0e6a9c"/><path d="M0 16.9 L-17.6 0 L-6 0 L0 6 Z" fill="#1687bd"/><path d="M0 -6 L6 0 L0 6 L-6 0 Z" fill="#22b4e2"/></g>
<text x="150.8" y="1280.9" textLength="29.7" lengthAdjust="spacingAndGlyphs">clk</text>
<rect x="94" y="1312.5" width="14" height="2.2" fill="#e8e8e8"/>
<g transform="translate(83.2 1312.5)"><rect x="-10.8" y="-11" width="21.6" height="22" rx="1.5" fill="#f6f0ea" stroke="#b8a89c" stroke-width="1.2"/><path d="M-6 0H6M0 -6V6" stroke="#000" stroke-width="2.6"/></g>
<g transform="translate(123.3 1311.3)"><path d="M0 -16.9 L17.6 0 L0 16.9 L-17.6 0 Z" fill="#1b93cc"/><path d="M0 -16.9 L-17.6 0 L-6 0 L0 -6 Z" fill="#86e0f2"/><path d="M0 -16.9 L17.6 0 L6 0 L0 -6 Z" fill="#27a9dc"/><path d="M0 16.9 L17.6 0 L6 0 L0 6 Z" fill="#0e6a9c"/><path d="M0 16.9 L-17.6 0 L-6 0 L0 6 Z" fill="#1687bd"/><path d="M0 -6 L6 0 L0 6 L-6 0 Z" fill="#22b4e2"/></g>
<text x="150.8" y="1319.9" textLength="13.12" lengthAdjust="spacingAndGlyphs">a</text>
<rect x="94" y="1351.5" width="14" height="2.2" fill="#e8e8e8"/>
<g transform="translate(83.2 1351.5)"><rect x="-10.8" y="-11" width="21.6" height="22" rx="1.5" fill="#f6f0ea" stroke="#b8a89c" stroke-width="1.2"/><path d="M-6 0H6M0 -6V6" stroke="#000" stroke-width="2.6"/></g>
<g transform="translate(123.3 1350.3)"><path d="M0 -16.9 L17.6 0 L0 16.9 L-17.6 0 Z" fill="#1b93cc"/><path d="M0 -16.9 L-17.6 0 L-6 0 L0 -6 Z" fill="#86e0f2"/><path d="M0 -16.9 L17.6 0 L6 0 L0 -6 Z" fill="#27a9dc"/><path d="M0 16.9 L17.6 0 L6 0 L0 6 Z" fill="#0e6a9c"/><path d="M0 16.9 L-17.6 0 L-6 0 L0 6 Z" fill="#1687bd"/><path d="M0 -6 L6 0 L0 6 L-6 0 Z" fill="#22b4e2"/></g>
<text x="150.8" y="1358.9" textLength="13.83" lengthAdjust="spacingAndGlyphs">b</text>
<rect x="94" y="1390.5" width="14" height="2.2" fill="#e8e8e8"/>
<g transform="translate(83.2 1390.5)"><rect x="-10.8" y="-11" width="21.6" height="22" rx="1.5" fill="#f6f0ea" stroke="#b8a89c" stroke-width="1.2"/><path d="M-6 0H6M0 -6V6" stroke="#000" stroke-width="2.6"/></g>
<g transform="translate(123.3 1389.3)"><path d="M0 -16.9 L17.6 0 L0 16.9 L-17.6 0 Z" fill="#1b93cc"/><path d="M0 -16.9 L-17.6 0 L-6 0 L0 -6 Z" fill="#86e0f2"/><path d="M0 -16.9 L17.6 0 L6 0 L0 -6 Z" fill="#27a9dc"/><path d="M0 16.9 L17.6 0 L6 0 L0 6 Z" fill="#0e6a9c"/><path d="M0 16.9 L-17.6 0 L-6 0 L0 6 Z" fill="#1687bd"/><path d="M0 -6 L6 0 L0 6 L-6 0 Z" fill="#22b4e2"/></g>
<text x="150.8" y="1397.9" textLength="13.83" lengthAdjust="spacingAndGlyphs">q</text>
<rect x="94" y="1429.5" width="14" height="2.2" fill="#e8e8e8"/>
<g transform="translate(83.2 1429.5)"><rect x="-10.8" y="-11" width="21.6" height="22" rx="1.5" fill="#f6f0ea" stroke="#b8a89c" stroke-width="1.2"/><path d="M-6 0H6M0 -6V6" stroke="#000" stroke-width="2.6"/></g>
<g transform="translate(123.3 1428.3)"><path d="M0 -16.9 L17.6 0 L0 16.9 L-17.6 0 Z" fill="#1b93cc"/><path d="M0 -16.9 L-17.6 0 L-6 0 L0 -6 Z" fill="#86e0f2"/><path d="M0 -16.9 L17.6 0 L6 0 L0 -6 Z" fill="#27a9dc"/><path d="M0 16.9 L17.6 0 L6 0 L0 6 Z" fill="#0e6a9c"/><path d="M0 16.9 L-17.6 0 L-6 0 L0 6 Z" fill="#1687bd"/><path d="M0 -6 L6 0 L0 6 L-6 0 Z" fill="#22b4e2"/></g>
<text x="150.8" y="1436.9" textLength="9" lengthAdjust="spacingAndGlyphs">r</text>
<g transform="translate(123.3 1467.3)"><path d="M0 -16.9 L17.6 0 L0 16.9 L-17.6 0 Z" fill="#1b93cc"/><path d="M0 -16.9 L-17.6 0 L-6 0 L0 -6 Z" fill="#86e0f2"/><path d="M0 -16.9 L17.6 0 L6 0 L0 -6 Z" fill="#27a9dc"/><path d="M0 16.9 L17.6 0 L6 0 L0 6 Z" fill="#0e6a9c"/><path d="M0 16.9 L-17.6 0 L-6 0 L0 6 Z" fill="#1687bd"/><path d="M0 -6 L6 0 L0 6 L-6 0 Z" fill="#22b4e2"/></g>
<text x="150.8" y="1475.9" textLength="51.38" lengthAdjust="spacingAndGlyphs">busy</text>
<g transform="translate(123.3 1506.3)"><path d="M0 -16.9 L17.6 0 L0 16.9 L-17.6 0 Z" fill="#1b93cc"/><path d="M0 -16.9 L-17.6 0 L-6 0 L0 -6 Z" fill="#86e0f2"/><path d="M0 -16.9 L17.6 0 L6 0 L0 -6 Z" fill="#27a9dc"/><path d="M0 16.9 L17.6 0 L6 0 L0 6 Z" fill="#0e6a9c"/><path d="M0 16.9 L-17.6 0 L-6 0 L0 6 Z" fill="#1687bd"/><path d="M0 -6 L6 0 L0 6 L-6 0 Z" fill="#22b4e2"/></g>
<text x="150.8" y="1514.9" textLength="61.55" lengthAdjust="spacingAndGlyphs">ready</text>
<rect x="94" y="1546.5" width="14" height="2.2" fill="#e8e8e8"/>
<g transform="translate(83.2 1546.5)"><rect x="-10.8" y="-11" width="21.6" height="22" rx="1.5" fill="#f6f0ea" stroke="#b8a89c" stroke-width="1.2"/><path d="M-6 0H6M0 -6V6" stroke="#000" stroke-width="2.6"/></g>
<g transform="translate(123.3 1545.3)"><path d="M0 -16.9 L17.6 0 L0 16.9 L-17.6 0 Z" fill="#1b93cc"/><path d="M0 -16.9 L-17.6 0 L-6 0 L0 -6 Z" fill="#86e0f2"/><path d="M0 -16.9 L17.6 0 L6 0 L0 -6 Z" fill="#27a9dc"/><path d="M0 16.9 L17.6 0 L6 0 L0 6 Z" fill="#0e6a9c"/><path d="M0 16.9 L-17.6 0 L-6 0 L0 6 Z" fill="#1687bd"/><path d="M0 -6 L6 0 L0 6 L-6 0 Z" fill="#22b4e2"/></g>
<text x="150.8" y="1553.9" textLength="61.35" lengthAdjust="spacingAndGlyphs">count</text>
</g>
</g>
</svg>
</body></html>
